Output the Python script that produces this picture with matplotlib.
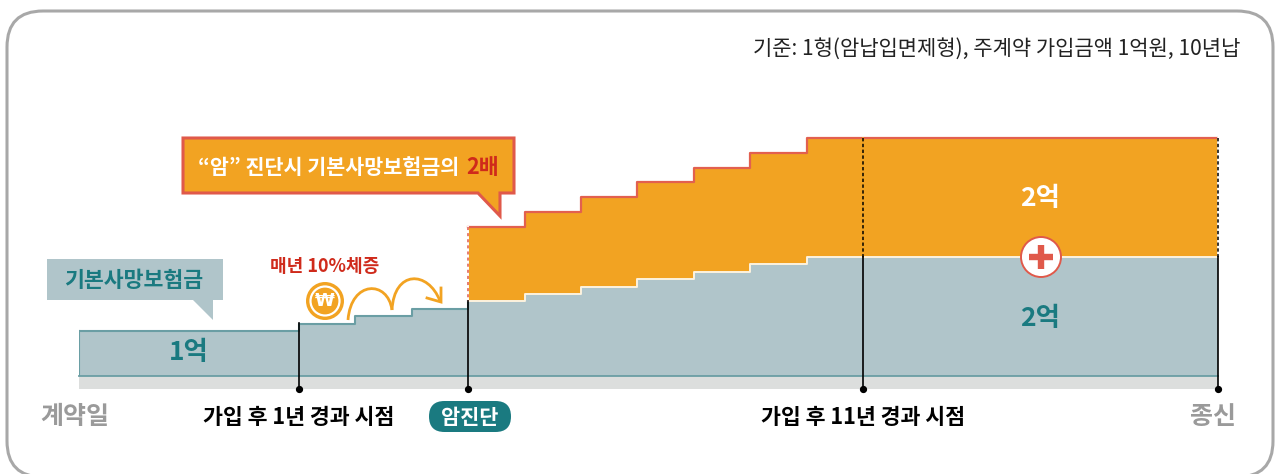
import matplotlib
matplotlib.use('Agg')
import matplotlib.pyplot as plt
from matplotlib.patches import FancyBboxPatch, Polygon, Circle, PathPatch
from matplotlib.path import Path

plt.rcParams['font.family'] = ['Noto Sans CJK KR', 'DejaVu Sans']

# 가입 후 경과 연수 (계약일은 그림상 -2.9, 종신은 17.29 위치)
years = [-2.9, 1, 2, 3, 4, 5, 6, 7, 8, 9, 10, 17.29]
# 기본사망보험금 (억)
base = [1.0, 1.1, 1.2, 1.3, 1.4, 1.5, 1.6, 1.7, 1.8, 1.9, 2.0, 2.0]
# 암 진단시 사망보험금 (억), 암진단 시점(4년)부터
cancer_years = [4, 5, 6, 7, 8, 9, 10, 17.29]
cancer = [2.8, 3.0, 3.2, 3.4, 3.6, 3.8, 4.0, 4.0]
marks = [1, 4, 11, 17.29]

W, H = 1276, 474
TEAL = '#1a7a80'
FILL = '#b0c5ca'
ORANGE = '#f2a322'
RED = '#e0594a'
GREY = '#9a9a9a'

fig = plt.figure(figsize=(W / 100, H / 100), dpi=100, facecolor='white')

# 전체 그림용 좌표 (장식, 글자)
bg = fig.add_axes([0, 0, 1, 1], zorder=0)
bg.set_xlim(0, W)
bg.set_ylim(H, 0)
bg.axis('off')
bg.add_patch(FancyBboxPatch((7, 11), 1266, 466, boxstyle='round,pad=0,rounding_size=36',
                            fc='white', ec='#a8a8a8', lw=2.2, clip_on=True))
bg.fill_between([79, 1218], 376, 389, color='#dcdedd', lw=0)

# 차트 영역: x 79~1218, 기준선 y=376
left, right, bottom, top = 79, 1218, 376, 100
ax = fig.add_axes([left / W, 1 - bottom / H, (right - left) / W, (bottom - top) / H], zorder=3)
ax.set_xlim(-2.9, 17.29)
ax.set_ylim(0.392, 0.392 + 276 / 74)
ax.axis('off')
ax.patch.set_visible(False)

ax2 = fig.add_axes(ax.get_position(), zorder=2)
ax2.set_xlim(-2.9, 17.29)
ax2.set_ylim(0.784, 0.784 + 276 / 74)
ax2.axis('off')
ax2.patch.set_visible(False)

ax2.fill_between(cancer_years, 0.784, cancer, step='post', color=ORANGE, lw=0)
ax2.step(cancer_years, cancer, where='post', color='#e2604f', lw=1.6)
ax2.plot([4, 4], [0.784, 2.8], color='white', lw=1.2, zorder=3)

ax.fill_between(years, 0.392, base, step='post', color=FILL, lw=0, zorder=2)
ax.step(years[:5], base[:5], where='post', color='#6a9ea4', lw=1.5, zorder=3)
ax.step(years[4:], base[4:], where='post', color='#fdf3df', lw=1.4, zorder=3)
ax.plot([-2.9, -2.9], [0.392, 1.0], color='#6a9ea4', lw=1.5, zorder=3)
ax.plot([-2.9, 17.29], [0.392, 0.392], color='#6a9ea4', lw=1.3, zorder=3, clip_on=False)

# 시점 표시선
fg = fig.add_axes([0, 0, 1, 1], zorder=5)
fg.set_xlim(0, W)
fg.set_ylim(H, 0)
fg.axis('off')
fg.patch.set_visible(False)

for m in marks:
    px = ax.transData.transform((m, 1))[0]
    if m == 1:
        y0 = 323
    elif m == 4:
        y0 = 301
        fg.plot([px, px], [227, y0], color='white', lw=1.2)
        fg.plot([px, px], [227, y0], color=RED, lw=1.1, ls=(0, (2, 2)))
    else:
        y0 = 257
        fg.plot([px, px], [138, y0], color='white' if m > 11 else ORANGE, lw=1.2)
        fg.plot([px, px], [138, y0], color='black', lw=1.1, ls=(0, (2.2, 1.6)))
    fg.plot([px, px], [y0, 389], color='black', lw=1.2)
    fg.plot(px, 389, 'o', color='black', ms=4.2)

# 상단 기준 문구
fg.text(1240, 49, '기준: 1형(암납입면제형), 주계약 가입금액 1억원, 10년납', ha='right', va='center',
        fontsize=15.1, color='#222222')

# 빨간 말풍선
fg.add_patch(Polygon([(183, 138), (514, 138), (514, 193), (500, 193), (500, 216), (478, 193), (183, 193)],
                     closed=True, fc=ORANGE, ec=RED, lw=2.2, joinstyle='miter'))
fg.text(198, 167, '“암” 진단시 기본사망보험금의', ha='left', va='center', fontsize=14.9, color='white',
        weight='bold')
fg.text(466, 167, '2배', ha='left', va='center', fontsize=15.6, color='#cf2a1b', weight='bold')

# 기본사망보험금 라벨
fg.add_patch(Polygon([(47, 259), (223, 259), (223, 300), (213, 300), (213, 320), (193, 300), (47, 300)],
                     closed=True, fc=FILL, ec='none'))
fg.text(134, 280.5, '기본사망보험금', ha='center', va='center', fontsize=15.6, color=TEAL, weight='bold')

fg.text(325, 266, '매년 10%체증', ha='center', va='center', fontsize=13, color='#cf2a1b', weight='bold')

# 동전과 화살표
fg.add_patch(Circle((325, 301), 19, fc=ORANGE, ec='none'))
fg.add_patch(Circle((325, 301), 14.5, fc='none', ec='white', lw=1.6))
fg.text(325, 301, '₩', ha='center', va='center', fontsize=13, color='white', weight='bold',
        family=['DejaVu Sans'])
arc1 = Path([(348, 320), (351, 280), (388, 280), (392, 310)], [Path.MOVETO, Path.CURVE4, Path.CURVE4, Path.CURVE4])
arc2 = Path([(392, 310), (394, 270), (428, 270), (440, 301)], [Path.MOVETO, Path.CURVE4, Path.CURVE4, Path.CURVE4])
fg.add_patch(PathPatch(arc1, fc='none', ec=ORANGE, lw=2))
fg.add_patch(PathPatch(arc2, fc='none', ec=ORANGE, lw=2))
fg.plot([427, 441, 441], [298, 302, 288], color=ORANGE, lw=2, solid_joinstyle='miter')

# 금액
fg.text(189, 353, '1억', ha='center', va='center', fontsize=19, color=TEAL, weight='bold')
fg.text(1040, 199, '2억', ha='center', va='center', fontsize=19, color='white', weight='bold')
fg.text(1040, 318, '2억', ha='center', va='center', fontsize=19, color=TEAL, weight='bold')
fg.add_patch(Circle((1041, 257), 20, fc='white', ec=RED, lw=1.4))
fg.plot([1029, 1053], [257, 257], color=RED, lw=4.6, solid_capstyle='butt')
fg.plot([1041, 1041], [245, 269], color=RED, lw=4.6, solid_capstyle='butt')

# 하단 라벨
fg.text(75, 417, '계약일', ha='center', va='center', fontsize=18, color=GREY, weight='bold')
fg.text(299, 418, '가입 후 1년 경과 시점', ha='center', va='center', fontsize=15.6, color='black', weight='bold')
fg.text(863, 418, '가입 후 11년 경과 시점', ha='center', va='center', fontsize=15.6, color='black', weight='bold')
fg.text(1213, 417, '종신', ha='center', va='center', fontsize=18, color=GREY, weight='bold')
fg.add_patch(FancyBboxPatch((429, 401), 82, 31, boxstyle='round,pad=0,rounding_size=15.5', fc=TEAL, ec='none'))
fg.text(470, 417, '암진단', ha='center', va='center', fontsize=15, color='white', weight='bold')

fig.savefig('out.png', dpi=100)
